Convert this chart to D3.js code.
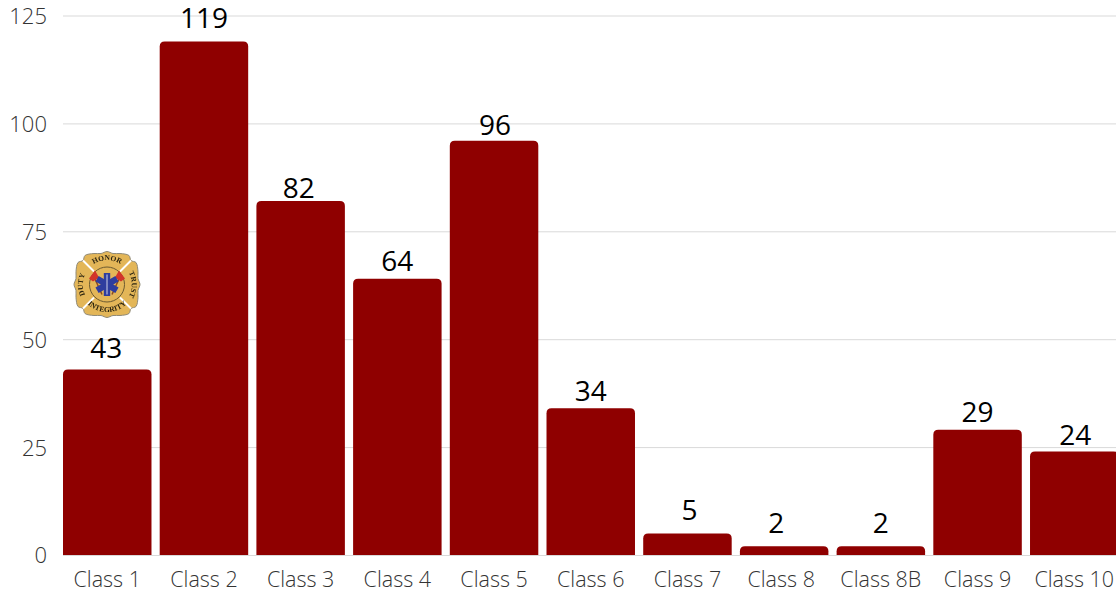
<!DOCTYPE html>
<html><head><meta charset="utf-8">
<script src="https://cdn.jsdelivr.net/npm/d3@7"></script>
<style>html,body{margin:0;padding:0;background:#fff;overflow:hidden}svg{display:block}</style>
</head><body><svg id="c" width="1116" height="593"></svg>
<script>
const categories=["Class 1","Class 2","Class 3","Class 4","Class 5","Class 6","Class 7","Class 8","Class 8B","Class 9","Class 10"];
const values=[43,119,82,64,96,34,5,2,2,29,24];
const yTicks=[0,25,50,75,100,125];
const labelNudgeX=[-1,0,-2,0,1,0,2,-8,0,0,1];
const labelNudgeY=[-2,-4,6,1,3,2,-4,-4,-4,1,3];
const svg=d3.select("#c");
const font="'Open Sans'";
const x=d3.scaleBand().domain(categories).range([63,1118.5]).paddingInner(0.085).paddingOuter(0);
const y=d3.scaleLinear().domain([0,125]).range([555,15.5]);
const yAxis=d3.axisLeft(y).tickValues(yTicks).tickSize(-1053).tickPadding(16);
const gy=svg.append("g").attr("transform","translate(63,0)").call(yAxis);
gy.select(".domain").remove();
gy.selectAll("line").attr("stroke","#d9d9d9").attr("stroke-width",1);
gy.selectAll("text").attr("font-family",font).attr("font-weight",300).attr("font-size",22).attr("fill","#333").attr("dy","0.36em");
const xAxis=d3.axisBottom(x).tickSize(0).tickPadding(17);
const gx=svg.append("g").attr("transform","translate(0,555)").call(xAxis);
gx.select(".domain").remove();
gx.selectAll("text").attr("font-family",font).attr("font-weight",300).attr("font-size",21.5).attr("fill","#333")
  .attr("dx",d=>d==="Class 8"?-3:0);
const r=5;
svg.append("g").selectAll("path").data(values).join("path")
 .attr("fill","#8f0000")
 .attr("d",(d,i)=>{const a=x(categories[i]),w=x.bandwidth(),t=y(d),b=y(0),q=Math.min(r,(b-t));
  return `M${a},${b}V${t+q}Q${a},${t} ${a+q},${t}H${a+w-q}Q${a+w},${t} ${a+w},${t+q}V${b}Z`;});
svg.append("g").selectAll("text").data(values).join("text")
 .attr("x",(d,i)=>x(categories[i])+x.bandwidth()/2+labelNudgeX[i])
 .attr("y",(d,i)=>y(d)-9+labelNudgeY[i])
 .attr("text-anchor","middle").attr("font-family",font).attr("font-size",28).attr("fill","#000").text(d=>d);
// badge
const defs=svg.append("defs");
defs.append("filter").attr("id","soft").append("feGaussianBlur").attr("stdDeviation",0.35);
defs.append("path").attr("id","arcTop").attr("d","M-21,-12 A24,24 0 0 1 21,-12");
defs.append("path").attr("id","arcBot").attr("d","M-24,14 A28,28 0 0 0 24,14");
defs.append("path").attr("id","arcL").attr("d","M-18,16 A24,24 0 0 1 -18,-16");
defs.append("path").attr("id","arcR").attr("d","M18,-17 A25,25 0 0 1 18,17");
const g=svg.append("g").attr("transform","translate(107,284.5)").attr("filter","url(#soft)");
const arm=(p)=>[[-24,-24],[-22,-29],[-13,-31],[-6,-31],[0,-33],[6,-31],[13,-31],[22,-29]].map(([a,b])=>{const c=Math.cos(p),s=Math.sin(p);return [a*c-b*s,a*s+b*c];});
const pts=[0,1,2,3].flatMap(k=>arm(k*Math.PI/2));
g.append("path").attr("d",d3.line().curve(d3.curveCatmullRomClosed.alpha(0.5))(pts)).attr("fill","#e3b659").attr("stroke","#8f8a78").attr("stroke-width",1);
[[-1,-1],[1,-1],[1,1],[-1,1]].forEach(([a,b])=>g.append("line").attr("x1",a*13).attr("y1",b*13).attr("x2",a*24).attr("y2",b*24).attr("stroke","#fff").attr("stroke-width",2));
g.append("circle").attr("r",17.5).attr("fill","#e3b659").attr("stroke","#6b5a30").attr("stroke-width",1);
[-1,1].forEach(a=>{g.append("line").attr("x1",a*5).attr("y1",10).attr("x2",a*14).attr("y2",-10).attr("stroke","#8a4a20").attr("stroke-width",1.5);
 g.append("path").attr("d",`M${a*8},-7 L${a*12},-14 L${a*18},-6 L${a*14},-3Z`).attr("fill","#d2342a");});
const star=g.append("g").attr("fill","#2f3d9e");
[0,60,120].forEach(a=>star.append("rect").attr("x",-3.2).attr("y",-11.5).attr("width",6.4).attr("height",23).attr("transform",`rotate(${a})`));
g.append("line").attr("y1",-10).attr("y2",10).attr("stroke","#cfd3e8").attr("stroke-width",1);
const lab=(t,id)=>g.append("text").attr("font-family","'Liberation Serif'").attr("font-weight",700).attr("font-size",7.5).attr("fill","#2b2410").attr("text-anchor","middle").append("textPath").attr("href","#"+id).attr("startOffset","50%").text(t);
lab("HONOR","arcTop");lab("INTEGRITY","arcBot");lab("DUTY","arcL");lab("TRUST","arcR");
</script></body></html>
